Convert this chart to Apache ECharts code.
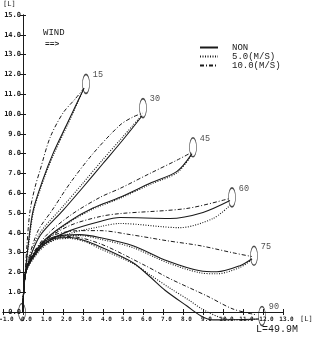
<!DOCTYPE html>
<html><head><meta charset="utf-8">
<script src="https://cdn.jsdelivr.net/npm/echarts@6/dist/echarts.min.js"></script>
<style>html,body{margin:0;padding:0;background:#fff}#c{width:317px;height:343px}</style>
</head><body><div id="c"></div>
<script>
// legend / series names
const styleNames = ['NON', '5.0(M/S)', '10.0(M/S)'];
// end-point angle labels
const angleLabels = ['', '15', '30', '45', '60', '75', '90'];
// ellipse (end marker) centres
const ellipseX = [-0.05, 3.15, 6.0, 8.5, 10.45, 11.55, 11.95];
const ellipseY = [0, 11.52, 10.3, 8.32, 5.79, 2.84, -0.2];

// curves: NON (no wind), 5.0 m/s, 10.0 m/s
const non15 = [[0,0],[0.03,1.0],[0.1,1.8],[0.25,3.3],[0.5,5.1],[1.0,6.7],[1.5,8.0],[2.2,9.5],[3.05,11.3]];
const w5_15 = [[0,0],[0.03,1.0],[0.1,1.8],[0.27,3.3],[0.53,5.1],[1.04,6.7],[1.55,8.0],[2.25,9.5],[3.05,11.3]];
const w10_15 = [[0,0],[0.03,1.0],[0.1,1.8],[0.2,3.4],[0.35,5.1],[0.6,6.3],[0.85,7.15],[1.35,8.8],[2.0,10.05],[2.6,10.75],[3.05,11.3]];

const non30 = [[0,0],[0.03,1.0],[0.1,1.8],[0.3,2.6],[0.85,3.85],[2.0,5.13],[3.0,6.3],[4.0,7.5],[5.0,8.7],[5.95,9.9]];
const w5_30 = [[0,0],[0.03,1.0],[0.1,1.8],[0.3,2.65],[0.82,3.95],[1.95,5.28],[2.95,6.45],[3.95,7.65],[4.95,8.8],[5.95,9.95]];
const w10_30 = [[0,0],[0.03,1.0],[0.1,1.8],[0.25,2.6],[0.75,4.1],[1.45,5.13],[2.35,6.5],[3.5,8.0],[4.85,9.44],[5.5,9.85],[6.0,10.05]];

const non45 = [[0,0],[0.03,1.0],[0.1,1.8],[0.3,2.5],[1.1,3.65],[2.35,4.6],[3.5,5.25],[4.85,5.79],[6.35,6.5],[7.7,7.1],[8.45,8.0]];
const w5_45 = [[0,0],[0.03,1.0],[0.1,1.8],[0.3,2.47],[1.1,3.6],[2.35,4.55],[3.5,5.2],[4.85,5.74],[6.35,6.44],[7.7,7.03],[8.45,7.95]];
const w10_45 = [[0,0],[0.03,1.0],[0.1,1.8],[0.3,2.55],[1.1,3.8],[2.35,4.87],[3.85,5.79],[4.85,6.24],[6.35,7.0],[7.7,7.67],[8.45,8.07]];

const non60 = [[0,0],[0.03,1.0],[0.1,1.8],[0.25,2.34],[1.1,3.45],[2.35,4.11],[3.85,4.57],[4.85,4.77],[7.35,4.72],[9.0,5.03],[10.35,5.63]];
const w5_60 = [[0,0],[0.03,1.0],[0.1,1.8],[0.25,2.28],[1.1,3.35],[2.35,3.96],[3.85,4.31],[4.85,4.47],[7.85,4.26],[9.5,4.72],[10.35,5.38]];
const w10_60 = [[0,0],[0.03,1.0],[0.1,1.8],[0.25,2.44],[1.1,3.6],[2.35,4.37],[3.85,4.82],[4.85,4.97],[8.2,5.23],[10.35,5.74]];

const non75 = [[0,0],[0.03,1.0],[0.1,1.8],[0.25,2.39],[0.85,3.35],[1.6,3.81],[2.85,3.91],[3.85,3.76],[5.5,3.35],[7.2,2.59],[8.85,2.08],[9.7,2.03],[10.85,2.34],[11.45,2.69]];
const w5_75 = [[0,0],[0.03,1.0],[0.1,1.8],[0.25,2.34],[0.85,3.3],[1.6,3.76],[2.85,3.86],[3.85,3.68],[5.5,3.25],[7.2,2.5],[8.85,1.98],[9.7,1.93],[10.85,2.25],[11.45,2.65]];
const w10_75 = [[0,0],[0.03,1.0],[0.1,1.8],[0.25,2.44],[0.85,3.45],[1.6,3.91],[2.85,4.11],[3.85,4.11],[5.35,3.91],[7.2,3.6],[8.85,3.35],[10.5,2.99],[11.45,2.8]];

const non90 = [[0,0],[0.03,1.0],[0.1,1.8],[0.25,2.34],[0.85,3.25],[1.6,3.71],[2.35,3.76],[3.1,3.6],[3.85,3.3],[5.5,2.49],[6.35,1.78],[7.1,1.1],[8.2,0.3],[8.9,-0.2],[9.5,-0.4],[11.8,-0.35]];
const w5_90 = [[0,0],[0.03,1.0],[0.1,1.8],[0.25,2.28],[0.85,3.2],[1.6,3.65],[2.35,3.71],[3.1,3.55],[3.85,3.2],[5.5,2.45],[6.35,1.88],[7.35,1.2],[8.3,0.6],[9.0,0.12],[10.0,-0.32],[10.85,-0.4],[11.8,-0.35]];
const w10_90 = [[0,0],[0.03,1.0],[0.1,1.8],[0.25,2.39],[0.85,3.3],[1.6,3.76],[2.35,3.81],[3.85,3.45],[6.1,2.35],[7.35,1.68],[9.2,0.81],[10.5,0.15],[11.7,-0.15]];

const curveSets = [
  [non15, w5_15, w10_15],
  [non30, w5_30, w10_30],
  [non45, w5_45, w10_45],
  [non60, w5_60, w10_60],
  [non75, w5_75, w10_75],
  [non90, w5_90, w10_90]
];

const INK = '#1a1a1a';
const lineTypes = ['solid', [1, 1.5], [4, 2, 1, 2]];
const lineWidths = [1.1, 1.1, 1];

const series = [];
curveSets.forEach(set => {
  set.forEach((d, k) => {
    series.push({
      type: 'line', name: styleNames[k], data: d,
      smooth: 0.3, symbol: 'none', showSymbol: false, clip: false,
      lineStyle: { color: INK, width: lineWidths[k], type: lineTypes[k] },
      itemStyle: { color: INK },
      silent: true
    });
  });
});

series.push({
  type: 'scatter', name: 'ends', clip: false,
  data: ellipseX.map((x, i) => ({ value: [x, ellipseY[i]], name: angleLabels[i], symbolSize: i === 0 ? [7, 17] : [7, 19] })),
  symbol: 'circle',
  itemStyle: { color: 'rgba(0,0,0,0)', borderColor: INK, borderWidth: 1 },
  label: {
    show: true, position: 'right', distance: 3, offset: [0, -9],
    formatter: p => p.name, color: INK, fontSize: 8.5,
    fontFamily: 'Liberation Mono'
  },
  z: 5, silent: true
});

const axisFont = 'DejaVu Sans Mono';
const xBase = {
  type: 'value', min: -1, max: 13, interval: 1, position: 'bottom', offset: 0,
  axisLine: { onZero: false, lineStyle: { color: INK, width: 1 } },
  splitLine: { show: false }
};
// y axis drawn at x = 0: one x unit is 20 px, so shift it 20 px right of the grid's left edge (x = -1)
const yBase = {
  type: 'value', min: 0, max: 15, interval: 1, position: 'left', offset: -20,
  axisLine: { onZero: false, lineStyle: { color: INK, width: 1 } },
  splitLine: { show: false }
};

const option = {
  animation: false,
  backgroundColor: '#fff',
  grid: { left: 3, right: 34, top: 15, bottom: 31, containLabel: false, outerBoundsMode: 'none' },
  legend: {
    data: styleNames, orient: 'vertical', left: 194, top: 38,
    itemWidth: 18, itemHeight: 7, itemGap: 0, selectedMode: false,
    itemStyle: { opacity: 0 },
    textStyle: { fontFamily: 'Liberation Mono', fontSize: 9, lineHeight: 9, color: INK, padding: [0, 0, 0, 9] }
  },
  xAxis: [
    Object.assign({}, xBase, {
      axisTick: { show: true, inside: false, length: 3, lineStyle: { color: INK } },
      axisLabel: {
        interval: 0, fontSize: 6, margin: 4, color: INK, fontFamily: axisFont, fontWeight: 'bold',
        padding: [0, 0, 0, 7], formatter: v => v.toFixed(1)
      },
      name: '[L]', nameLocation: 'end', nameGap: 17,
      nameTextStyle: { fontFamily: axisFont, fontSize: 7, color: INK, verticalAlign: 'top', padding: [4, 0, 0, 0] }
    }),
    Object.assign({}, xBase, {
      axisTick: { show: true, inside: true, length: 3, lineStyle: { color: INK } },
      axisLabel: { show: false }
    })
  ],
  yAxis: [
    Object.assign({}, yBase, {
      axisTick: { show: true, inside: false, length: 3, lineStyle: { color: INK } },
      axisLabel: {
        interval: 0, fontSize: 7, margin: 2, color: INK, fontFamily: axisFont, fontWeight: 'bold',
        formatter: v => v.toFixed(1)
      }
    }),
    Object.assign({}, yBase, {
      axisTick: { show: true, inside: true, length: 3, lineStyle: { color: INK } },
      axisLabel: { show: false }
    })
  ],
  graphic: [
    { type: 'text', left: 3, top: 1, style: { text: '[L]', fill: INK, font: '7px "DejaVu Sans Mono"' } },
    { type: 'text', left: 43, top: 28, style: { text: 'WIND', fill: INK, font: '9px "Liberation Mono"' } },
    { type: 'text', left: 45, top: 40, style: { text: '==>', fill: INK, font: 'bold 8px "Liberation Mono"' } },
    { type: 'text', left: 256, top: 324, style: { text: 'L=49.9M', fill: INK, font: '10px "Liberation Mono"' } }
  ],
  series: series
};

const chart = echarts.init(document.getElementById('c'), null, { renderer: 'canvas' });
chart.setOption(option);
</script>
</body></html>
